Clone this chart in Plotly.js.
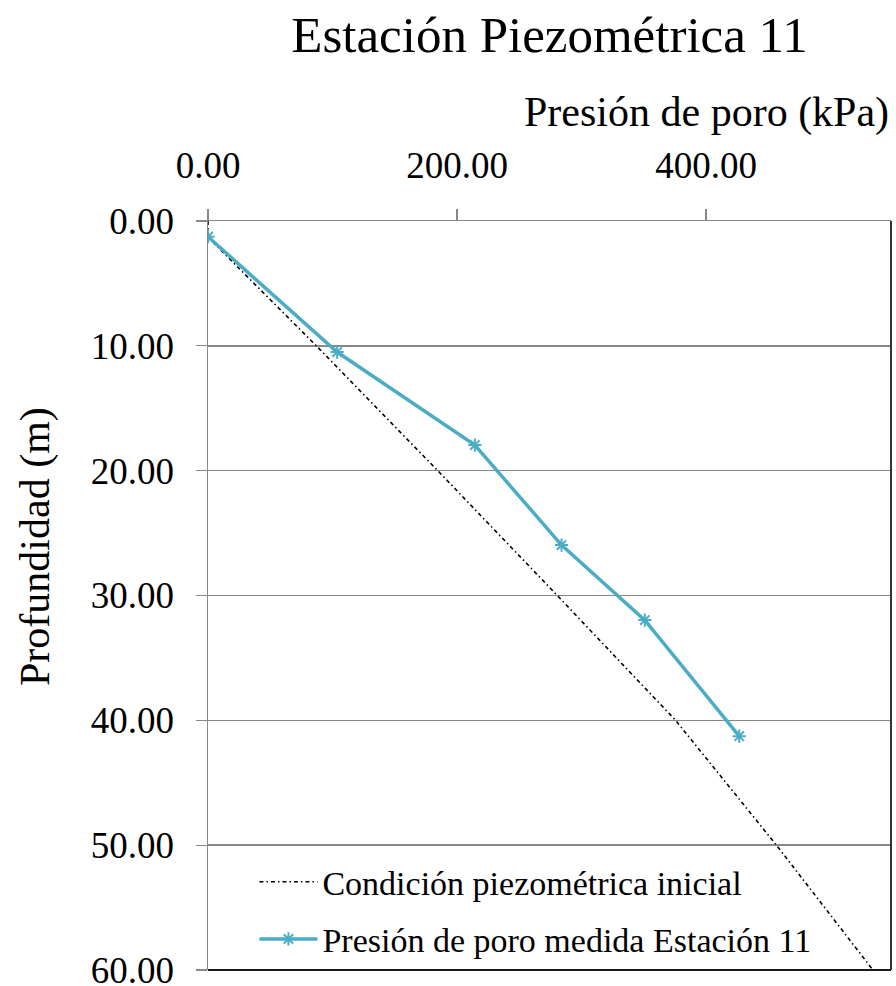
<!DOCTYPE html>
<html>
<head>
<meta charset="utf-8">
<script src="https://cdn.plot.ly/plotly-3.0.1.min.js"></script>
<style>html,body{margin:0;padding:0;background:#fff}#chart{width:896px;height:986px}</style>
</head>
<body>
<div id="chart"></div>
<script>
// Condición piezométrica inicial (dash-dot line)
const initialDepth = [0, 1.3, 10, 20, 30, 40, 50, 60];
const initialPressure = [0, 0, 87, 184.5, 280.5, 375.5, 456.5, 534];
// Presión de poro medida Estación 11
const measuredDepth = [1.26, 10.5, 17.95, 25.96, 31.97, 41.27];
const measuredPressure = [0, 103.7, 214.3, 283.9, 350.8, 426.6];

const titleText = 'Estación Piezométrica 11';
const xTitle = 'Presión de poro (kPa)';
const yTitle = 'Profundidad (m)';
const seriesNames = ['Condición piezométrica inicial', 'Presión de poro medida Estación 11'];

const FONT = 'Liberation Serif, Times New Roman, serif';
const GRID = '#878787';

const traces = [
  {
    x: initialPressure, y: initialDepth, name: seriesNames[0], type: 'scatter', mode: 'lines',
    line: {color: '#000000', width: 1.6, dash: '4px,3px,1.5px,3px'},
    legendgroup: 'a'
  },
  {
    x: measuredPressure, y: measuredDepth, name: seriesNames[1], type: 'scatter', mode: 'lines+markers',
    line: {color: '#4BACC6', width: 3.5},
    marker: {symbol: 'asterisk-open', size: 11, color: '#4BACC6', line: {color: '#4BACC6', width: 2}},
    legendgroup: 'b'
  }
];

const layout = {
  width: 896, height: 986,
  margin: {l: 208, r: 5, t: 221, b: 16, pad: 0},
  paper_bgcolor: '#ffffff', plot_bgcolor: '#ffffff',
  font: {family: FONT, color: '#000000', size: 37},
  title: {text: titleText, font: {family: FONT, size: 51, color: '#000'},
          x: 0.5, xref: 'paper', xanchor: 'center', y: 1 - 34/986, yref: 'container', yanchor: 'middle'},
  xaxis: {
    side: 'top', range: [0, 548.5], dtick: 200, tick0: 0, tickformat: '.2f',
    showgrid: false, zeroline: false, showline: true, linecolor: GRID, linewidth: 1.5,
    ticks: 'outside', ticklen: 11, tickcolor: GRID, tickwidth: 1.2,
    tickfont: {family: FONT, size: 37, color: '#000'}, ticklabelstandoff: 16,
    ticklabeloverflow: 'allow'
  },
  yaxis: {
    range: [60, 0], dtick: 10, tick0: 0, tickformat: '.2f',
    showgrid: true, gridcolor: GRID, gridwidth: 1.5, zeroline: false,
    showline: true, linecolor: GRID, linewidth: 1.5,
    ticks: 'outside', ticklen: 11, tickcolor: GRID, tickwidth: 1.2,
    tickfont: {family: FONT, size: 37, color: '#000'}, ticklabelstandoff: 14,
    ticklabeloverflow: 'allow'
  },
  showlegend: true,
  legend: {
    x: 0.068, xanchor: 'left', y: 0.156, yanchor: 'top', bgcolor: 'rgba(0,0,0,0)',
    font: {family: FONT, size: 34, color: '#000'}, traceorder: 'grouped', tracegroupgap: 10,
    itemwidth: 58
  },
  annotations: [
    {text: xTitle, xref: 'paper', yref: 'paper', x: 1.0, xanchor: 'right', y: 1 + (221-112)/749, yanchor: 'middle',
     showarrow: false, font: {family: FONT, size: 42, color: '#000'}},
    {text: yTitle, xref: 'paper', yref: 'paper', x: (35-208)/683, xanchor: 'center', y: (970-547)/749, yanchor: 'middle',
     textangle: -90, showarrow: false, font: {family: FONT, size: 42, color: '#000'}}
  ],
  shapes: [
    {type: 'line', xref: 'paper', yref: 'paper', x0: 0, x1: 1, y0: 0, y1: 0, line: {color: '#1a1a1a', width: 2}},
    {type: 'line', xref: 'paper', yref: 'paper', x0: 1, x1: 1, y0: 0, y1: 1, line: {color: '#333333', width: 2}}
  ]
};

Plotly.newPlot('chart', traces, layout, {displayModeBar: false, staticPlot: true});
</script>
</body>
</html>
